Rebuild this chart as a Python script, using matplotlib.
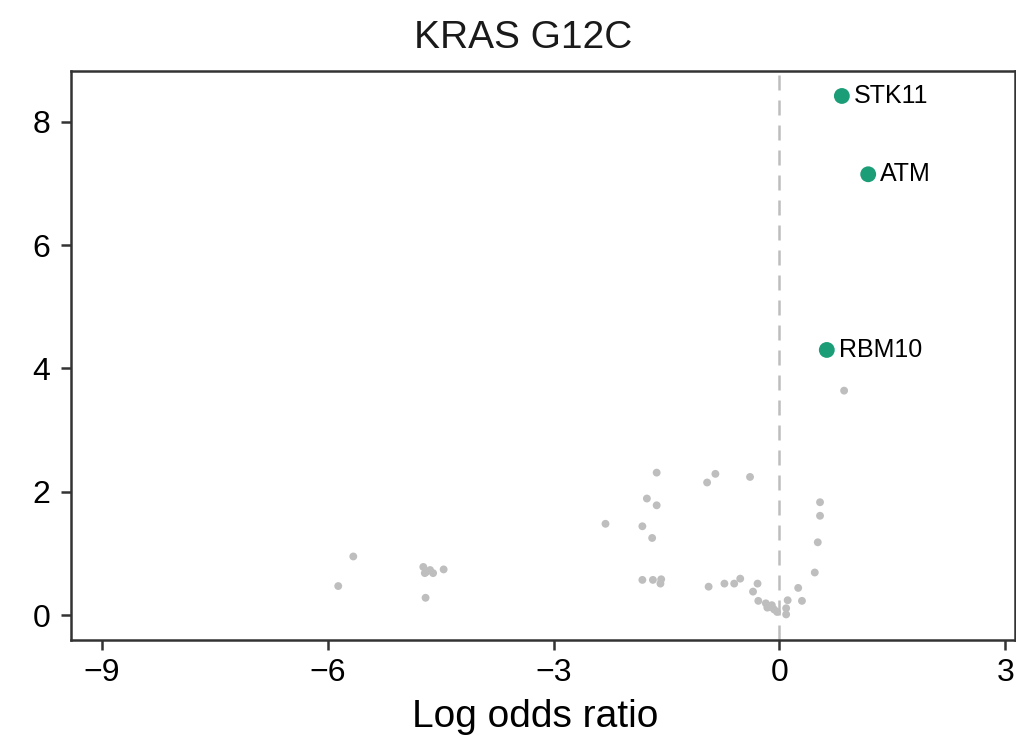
import matplotlib
matplotlib.use("Agg")
import matplotlib.pyplot as plt

plt.rcParams['font.family'] = ['Liberation Sans', 'DejaVu Sans']

# other genes (grey)
log_odds = [-5.66, -5.86, -4.73, -4.69, -4.60, -4.64, -4.71, -4.46, -4.70,
            -1.63, -0.96, -0.85, -0.39, -1.76, -1.63, -2.31, -1.82, -1.69,
            -1.82, -1.68, -1.57, -1.58, -0.94, -0.73, -0.60, -0.52, -0.29, -0.35,
            -0.28, -0.18, -0.13, -0.10, -0.07, -0.03, -0.16, 0.09, 0.09, 0.11,
            0.25, 0.30, 0.47, 0.54, 0.54, 0.51, 0.86]
neg_log_p = [0.95, 0.47, 0.78, 0.70, 0.68, 0.73, 0.68, 0.74, 0.28,
             2.31, 2.15, 2.29, 2.24, 1.89, 1.78, 1.48, 1.44, 1.25,
             0.57, 0.57, 0.58, 0.51, 0.46, 0.51, 0.51, 0.59, 0.51, 0.38,
             0.23, 0.19, 0.13, 0.16, 0.09, 0.05, 0.12, 0.11, 0.01, 0.24,
             0.44, 0.23, 0.69, 1.83, 1.61, 1.18, 3.64]

# significant genes (green)
sig_genes = ['STK11', 'ATM', 'RBM10']
sig_log_odds = [0.83, 1.18, 0.63]
sig_neg_log_p = [8.42, 7.15, 4.30]

x_ticks = [-9, -6, -3, 0, 3]
y_ticks = [0, 2, 4, 6, 8]

fig = plt.figure(figsize=(10.16, 7.36), dpi=100)
ax = fig.add_axes([71 / 1016, 1 - 640 / 736, 944 / 1016, (640 - 70.7) / 736])

ax.axvline(0, color='#bdbdbd', lw=1.8, ls=(0, (6, 4)), zorder=1)
ax.scatter(log_odds, neg_log_p, s=32, color='#bebebe', edgecolors='none', zorder=2)
ax.scatter(sig_log_odds, sig_neg_log_p, s=130, color='#1b9e77', edgecolors='none', zorder=3)
for g, x, y in zip(sig_genes, sig_log_odds, sig_neg_log_p):
    ax.annotate(g, (x, y), xytext=(8.5, 0), textcoords='offset points',
                ha='left', va='center', fontsize=18, color='black')

ax.set_xlim(-9.41, 3.13)
ax.set_ylim(-0.405, 8.83)
ax.set_xticks(x_ticks)
ax.set_xticklabels([str(t).replace('-', '\u2212') for t in x_ticks])
ax.set_yticks(y_ticks)

for sp in ax.spines.values():
    sp.set_color('#333333')
    sp.set_linewidth(1.8)
ax.tick_params(axis='both', length=7, width=1.8, color='#333333',
               labelsize=23, labelcolor='black')
ax.tick_params(axis='x', pad=6)
ax.tick_params(axis='y', pad=8)

fig.text(523 / 1016, 1 - 48 / 736, 'KRAS G12C', ha='center', va='baseline',
         fontsize=28, color='#1a1a1a')
fig.text(535 / 1016, 1 - 727 / 736, 'Log odds ratio', ha='center', va='baseline',
         fontsize=28, color='black')

fig.savefig('out.png', dpi=100)
